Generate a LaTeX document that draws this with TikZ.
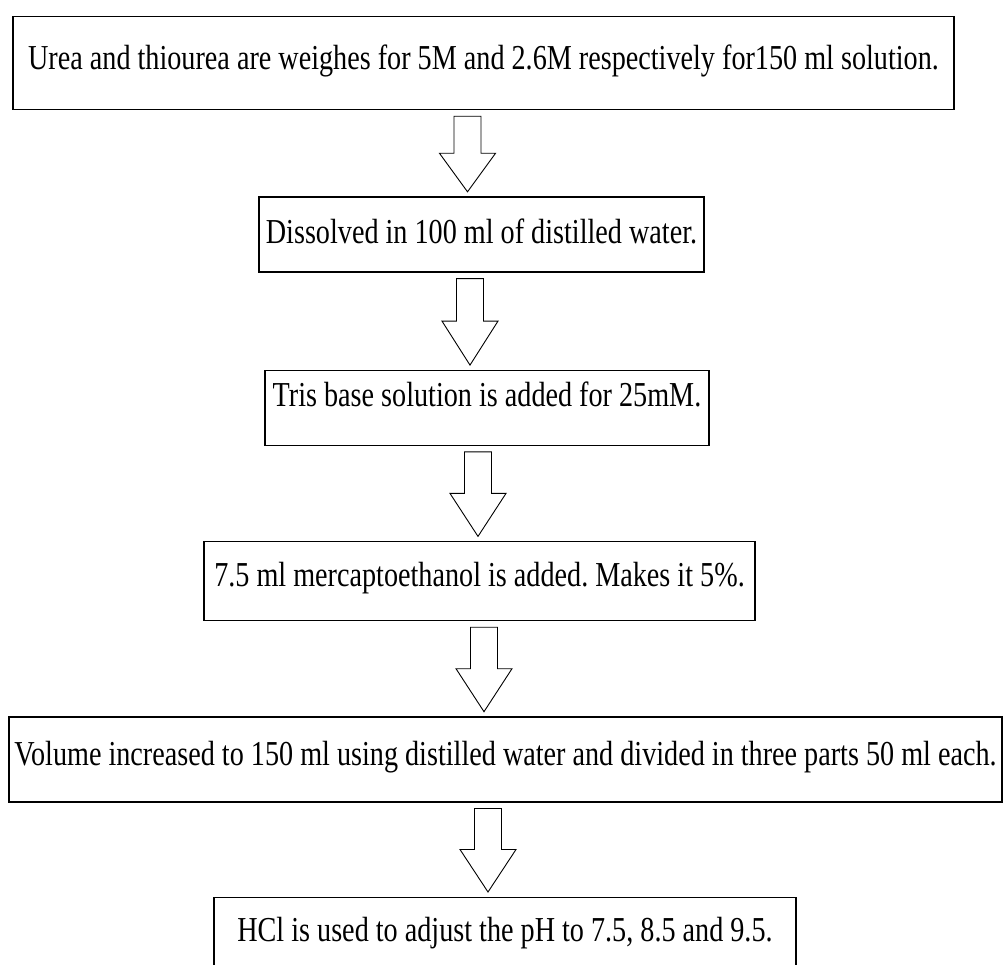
\documentclass[tikz,border=0pt]{standalone}
\usepackage{fontspec}
\setmainfont{Liberation Serif}[FakeStretch=0.805]
\frenchspacing
\usetikzlibrary{calc}

\newcommand{\flowarrow}[3]{%
  \draw[hollowarrow] let \p1 = (#1.south), \p2 = (#2.north), \p3 = (#3,0) in
    (\x3-13.5pt,\y1-6pt) -- (\x3+13.5pt,\y1-6pt) -- (\x3+13.5pt,{(\y1+\y2)/2})
    -- (\x3+28pt,{(\y1+\y2)/2}) -- (\x3,\y2+4.5pt) -- (\x3-28pt,{(\y1+\y2)/2})
    -- (\x3-13.5pt,{(\y1+\y2)/2}) -- cycle;}

\begin{document}
\begin{tikzpicture}[x=1pt, y=-1pt,
    stepbox/.style={rectangle, draw, line width=1.3pt, anchor=north, inner xsep=0pt, inner ysep=0pt,
      font=\fontsize{35}{42}\selectfont},
    hollowarrow/.style={line width=0.9pt, fill=white}]
    \useasboundingbox (0,0) rectangle (1005,965);

    \node[stepbox, minimum width=941pt, text height=52.5pt, text depth=40.5pt] (urea_weigh) at (483.5,16)
        {Urea and thiourea are weighes for 5M and 2.6M respectively for150 ml solution.} ;
    \node[stepbox, minimum width=445pt, text height=46.5pt, text depth=28.5pt, xshift=-2pt, yshift=-86pt] (dissolve_water) at (urea_weigh.south)
        {Dissolved in 100 ml of distilled water.} ;
    \node[stepbox, minimum width=444pt, text height=36.5pt, text depth=38.5pt, xshift=5.5pt, yshift=-97pt] (tris_base) at (dissolve_water.south)
        {Tris base solution is added for 25mM.} ;
    \node[stepbox, minimum width=551pt, text height=44.5pt, text depth=34.5pt, xshift=-7.5pt, yshift=-95pt] (mercapto_add) at (tris_base.south)
        {7.5 ml mercaptoethanol is added. Makes it 5\%.} ;
    \node[stepbox, minimum width=993pt, text height=48.5pt, text depth=36.5pt, xshift=26pt, yshift=-95pt] (volume_split) at (mercapto_add.south)
        {Volume increased to 150 ml using distilled water and divided in three parts 50 ml each.} ;
    \node[stepbox, minimum width=582pt, text height=44.5pt, text depth=45.5pt, xshift=-0.5pt, yshift=-94pt] (hcl_adjust) at (volume_split.south)
        {HCl is used to adjust the pH to 7.5, 8.5 and 9.5.} ;

    \flowarrow{urea_weigh}{dissolve_water}{467.5}
    \flowarrow{dissolve_water}{tris_base}{470}
    \flowarrow{tris_base}{mercapto_add}{478}
    \flowarrow{mercapto_add}{volume_split}{484}
    \flowarrow{volume_split}{hcl_adjust}{488}

\end{tikzpicture}
\end{document}
